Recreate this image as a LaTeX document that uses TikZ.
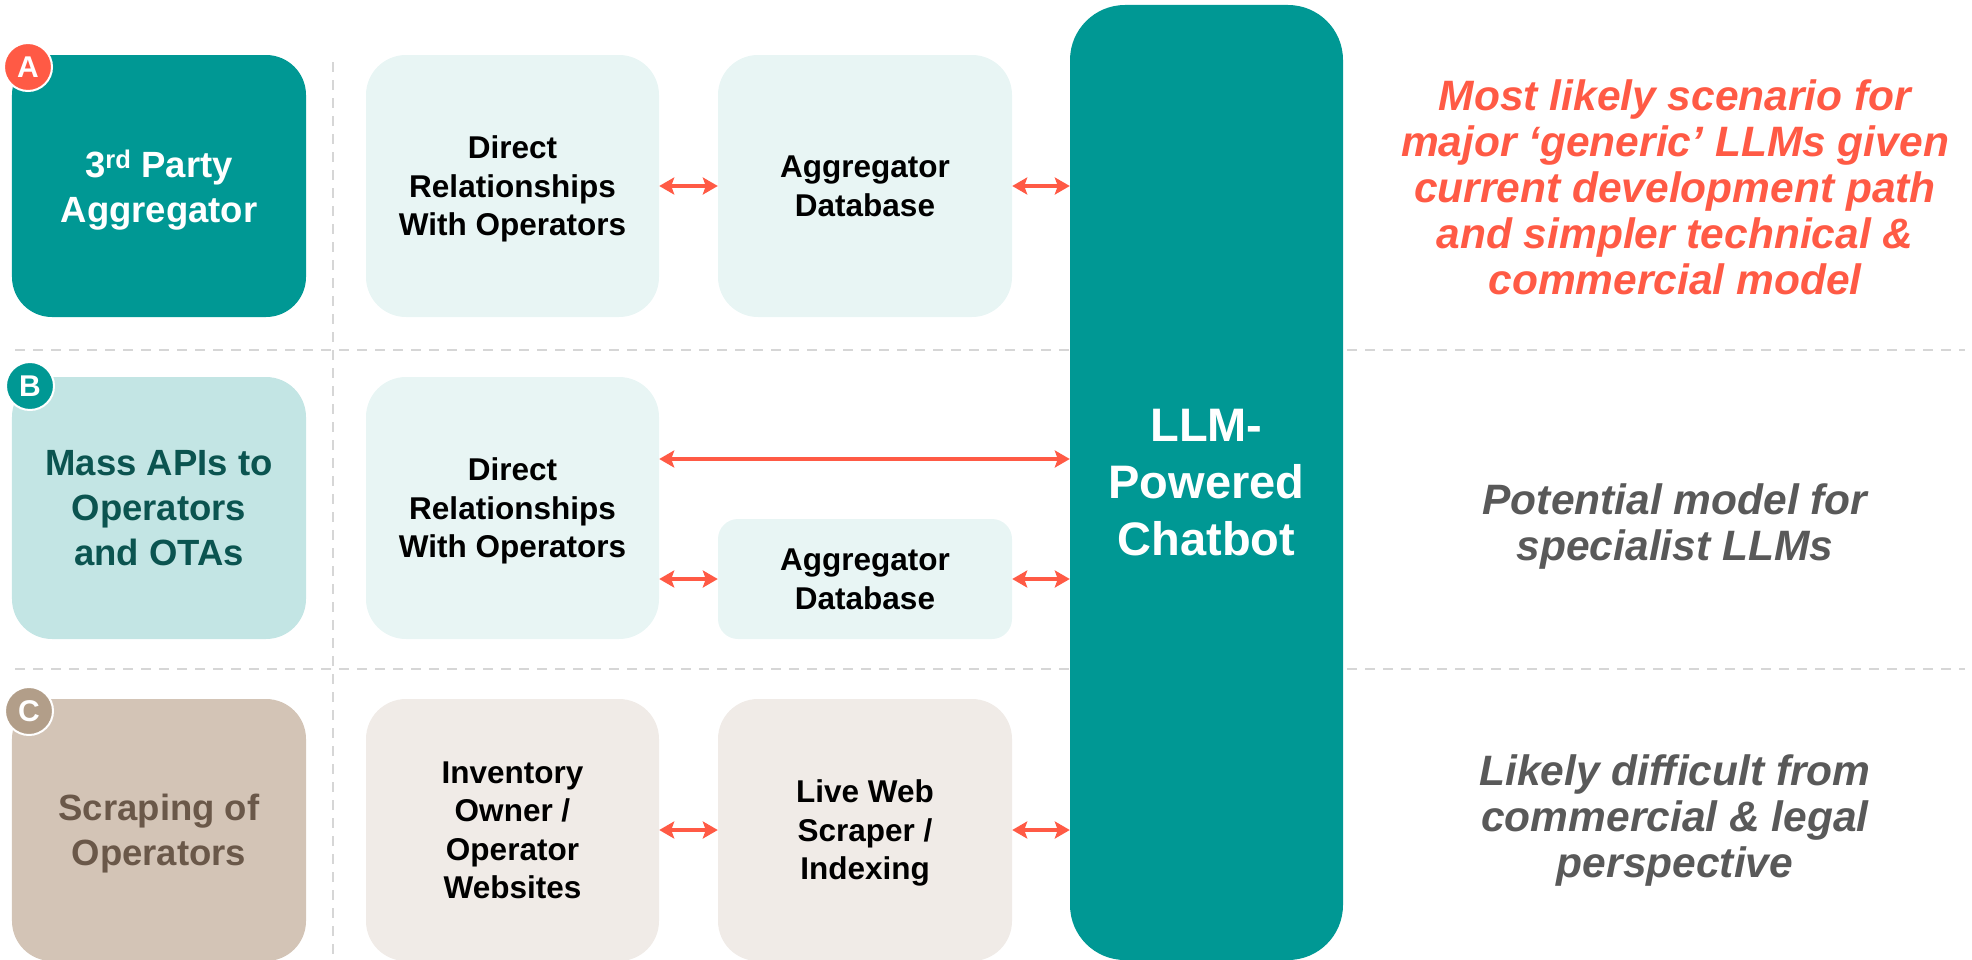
\documentclass[tikz,border=0pt]{standalone}
\usepackage{fontspec}
\setmainfont{Liberation Sans}
\usetikzlibrary{arrows.meta,calc}

\definecolor{brandteal}{HTML}{009894}
\definecolor{paleteal}{HTML}{E8F5F4}
\definecolor{softteal}{HTML}{C3E5E4}
\definecolor{deepteal}{HTML}{0B5450}
\definecolor{sand}{HTML}{D3C4B6}
\definecolor{sanddark}{HTML}{6A5849}
\definecolor{sandbadge}{HTML}{B29E89}
\definecolor{paper}{HTML}{F0EBE7}
\definecolor{coral}{HTML}{FF5A45}
\definecolor{slate}{HTML}{595959}
\definecolor{rule}{HTML}{D6D6D6}

\begin{document}
\begin{tikzpicture}[x=1bp,y=-1bp,
  box/.style={rounded corners=40bp, align=center, inner sep=0pt, text depth=0pt},
  lead/.style={box, minimum width=294bp, minimum height=262bp,
    font=\bfseries\fontsize{36.5bp}{45bp}\selectfont},
  mid/.style={box, minimum width=293bp, minimum height=262bp, text=black,
    font=\bfseries\fontsize{31.5bp}{38.5bp}\selectfont},
  badge/.style={circle, minimum size=48bp, inner sep=0pt, text=white,
    draw=white, line width=2bp, font=\bfseries\fontsize{30bp}{30bp}\selectfont},
  note/.style={align=center, inner sep=0pt,
    font=\bfseries\itshape\fontsize{42.5bp}{46bp}\selectfont},
  sep/.style={draw=rule, line width=2.5bp, dash pattern=on 10bp off 8bp},
  link/.style={draw=coral, line width=4bp,
    {Stealth[length=15bp,width=17bp,inset=3bp]}-{Stealth[length=15bp,width=17bp,inset=3bp]}}
]
\useasboundingbox (0,0) rectangle (1972,960);
\clip (0,0) rectangle (1972,960);

% separators between the three scenarios
\draw[sep] (15,350) -- (1965,350);
\draw[sep] (15,669) -- (1965,669);
\draw[sep] (333,62) -- (333,960);

% central chatbot
\node[box, fill=brandteal, rounded corners=55bp, minimum width=273bp,
  minimum height=955bp, text=white,
  font=\bfseries\fontsize{47bp}{57bp}\selectfont]
  (llm) at (1206.5,482.5) {LLM-\\Powered\\Chatbot};

% scenario A
\node[lead, fill=brandteal, text=white] (la) at (159,186) {3\textsuperscript{rd} Party\\Aggregator};
\node[mid, fill=paleteal] (a1) at (512.5,186) {Direct\\Relationships\\With Operators};
\node[mid, fill=paleteal, minimum width=294bp] (a2) at (865,186) {Aggregator\\Database};

% scenario B
\node[lead, fill=softteal, text=deepteal] (lb) at (159,508) {Mass APIs to\\Operators\\and OTAs};
\node[mid, fill=paleteal] (b1) at (512.5,508) {Direct\\Relationships\\With Operators};
\node[mid, fill=paleteal, minimum width=294bp, minimum height=120bp,
  rounded corners=20bp] (bdb) at (865,579) {Aggregator\\Database};

% scenario C
\node[lead, fill=sand, text=sanddark] (lc) at (159,830) {Scraping of\\Operators};
\node[mid, fill=paper] (c1) at (512.5,830) {Inventory\\Owner /\\Operator\\Websites};
\node[mid, fill=paper, minimum width=294bp] (c2) at (865,830) {Live Web\\Scraper /\\Indexing};

% data flows
\coordinate (bline) at (0,459);
\draw[link] (a1.east) -- (a2.west);
\draw[link] (a2.east) -- (llm.west |- a2.east);
\draw[link] (b1.east |- bline) -- (llm.west |- bline);
\draw[link] (b1.east |- bdb.west) -- (bdb.west);
\draw[link] (bdb.east) -- (llm.west |- bdb.east);
\draw[link] (c1.east) -- (c2.west);
\draw[link] (c2.east) -- (llm.west |- c2.east);

% scenario badges
\node[badge, fill=coral] (ka) at (28,67) {A};
\node[badge, fill=brandteal] (kb) at (30,386) {B};
\node[badge, fill=sandbadge] (kc) at (29,711) {C};

% assessments
\node[note, text=coral] (na) at (1675,187)
  {Most likely scenario for\\major ‘generic’ LLMs given\\current development path\\and simpler technical \&\\commercial model};
\node[note, text=slate] (nb) at (1675,527) {Potential model for\\specialist LLMs};
\node[note, text=slate] (nc) at (1675,821) {Likely difficult from\\commercial \& legal\\perspective};
\end{tikzpicture}
\end{document}
